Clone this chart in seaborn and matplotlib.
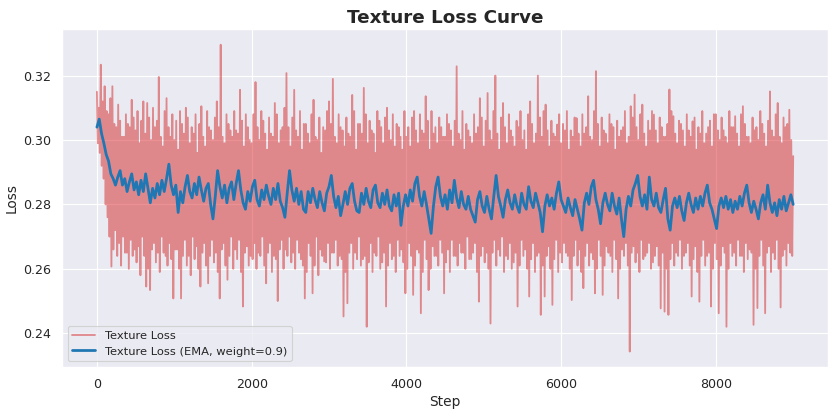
import numpy as np
import matplotlib
matplotlib.use("Agg")
import matplotlib.pyplot as plt
import seaborn as sns

sns.set_theme(style="darkgrid")
plt.rcParams["path.simplify"] = False

# Raw texture loss, every 12.5 steps (0 .. 9000)
raw_step = 12.5
raw_loss = [
    0.3150, 0.2990, 0.3100, 0.2960, 0.3234, 0.2920, 0.3120, 0.2880, 0.3167, 0.2800, 0.3090, 0.2760, 0.3080, 0.2700, 0.3130, 0.2607, 0.3167, 0.2660, 0.3050, 0.2720,
    0.3040, 0.2640, 0.3110, 0.2680, 0.3060, 0.2610, 0.3010, 0.2700, 0.3010, 0.2650, 0.3080, 0.2650, 0.3050, 0.2600, 0.3040, 0.2690, 0.3125, 0.2640, 0.3070, 0.2660,
    0.3030, 0.2620, 0.3090, 0.2670, 0.2990, 0.2580, 0.3060, 0.2700, 0.3120, 0.2640, 0.3020, 0.2545, 0.3115, 0.2600, 0.3070, 0.2534, 0.3000, 0.2660, 0.3100, 0.2680,
    0.3040, 0.2620, 0.3060, 0.2650, 0.3196, 0.2590, 0.3010, 0.2700, 0.2980, 0.2650, 0.3090, 0.2640, 0.3130, 0.2610, 0.3040, 0.2680, 0.3010, 0.2630, 0.3080, 0.2508,
    0.3000, 0.2660, 0.3060, 0.2660, 0.2970, 0.2600, 0.3090, 0.2508, 0.3050, 0.2640, 0.3020, 0.2690, 0.3100, 0.2610, 0.3070, 0.2640, 0.2990, 0.2580, 0.3040, 0.2700,
    0.3020, 0.2630, 0.3080, 0.2670, 0.2960, 0.2600, 0.3050, 0.2545, 0.3105, 0.2650, 0.3010, 0.2680, 0.2980, 0.2610, 0.3090, 0.2555, 0.3040, 0.2640, 0.3030, 0.2690,
    0.3000, 0.2620, 0.3070, 0.2650, 0.3120, 0.2590, 0.3040, 0.2508, 0.3296, 0.2660, 0.3010, 0.2680, 0.2990, 0.2610, 0.3080, 0.2566, 0.3050, 0.2640, 0.3030, 0.2700,
    0.3010, 0.2600, 0.3090, 0.2660, 0.3030, 0.2630, 0.3020, 0.2690, 0.3156, 0.2590, 0.3060, 0.2483, 0.2980, 0.2650, 0.3080, 0.2670, 0.3040, 0.2610, 0.3000, 0.2640,
    0.2990, 0.2630, 0.3080, 0.2680, 0.3180, 0.2600, 0.3040, 0.2650, 0.3000, 0.2640, 0.3090, 0.2700, 0.3060, 0.2610, 0.3020, 0.2555, 0.2970, 0.2650, 0.3070, 0.2680,
    0.3020, 0.2590, 0.3010, 0.2640, 0.3115, 0.2630, 0.3080, 0.2500, 0.2990, 0.2660, 0.3030, 0.2690, 0.3040, 0.2600, 0.3100, 0.2660, 0.3208, 0.2640, 0.3040, 0.2700,
    0.2980, 0.2620, 0.3070, 0.2650, 0.3156, 0.2600, 0.3030, 0.2690, 0.3010, 0.2650, 0.3090, 0.2630, 0.2970, 0.2610, 0.3050, 0.2508, 0.3050, 0.2590, 0.3020, 0.2680,
    0.2990, 0.2640, 0.3080, 0.2524, 0.3125, 0.2610, 0.3010, 0.2700, 0.3000, 0.2580, 0.3070, 0.2660, 0.2960, 0.2640, 0.3040, 0.2623, 0.3030, 0.2620, 0.3090, 0.2680,
    0.3120, 0.2600, 0.3050, 0.2650, 0.3190, 0.2650, 0.3010, 0.2690, 0.2990, 0.2610, 0.3080, 0.2640, 0.3040, 0.2630, 0.3030, 0.2452, 0.2980, 0.2590, 0.3070, 0.2493,
    0.3020, 0.2650, 0.3010, 0.2680, 0.3140, 0.2600, 0.3090, 0.2650, 0.2970, 0.2630, 0.3050, 0.2700, 0.3050, 0.2610, 0.3020, 0.2630, 0.3162, 0.2640, 0.3080, 0.2420,
    0.2990, 0.2620, 0.3060, 0.2680, 0.3030, 0.2590, 0.3020, 0.2650, 0.2960, 0.2640, 0.3090, 0.2700, 0.3060, 0.2600, 0.3040, 0.2620, 0.2990, 0.2650, 0.3070, 0.2483,
    0.3100, 0.2610, 0.3030, 0.2680, 0.3000, 0.2630, 0.3080, 0.2640, 0.2980, 0.2590, 0.3050, 0.2690, 0.3040, 0.2640, 0.3010, 0.2660, 0.2970, 0.2620, 0.3090, 0.2524,
    0.3010, 0.2600, 0.3040, 0.2680, 0.2980, 0.2640, 0.3070, 0.2519, 0.3090, 0.2610, 0.3030, 0.2660, 0.2990, 0.2650, 0.3080, 0.2462, 0.3030, 0.2590, 0.3020, 0.2690,
    0.3136, 0.2630, 0.3060, 0.2534, 0.2970, 0.2600, 0.3090, 0.2670, 0.3020, 0.2640, 0.3040, 0.2640, 0.2990, 0.2610, 0.3070, 0.2690, 0.3040, 0.2650, 0.3010, 0.2524,
    0.3010, 0.2620, 0.3080, 0.2660, 0.3050, 0.2590, 0.3030, 0.2690, 0.2980, 0.2640, 0.3060, 0.2640, 0.3229, 0.2610, 0.3020, 0.2680, 0.3000, 0.2650, 0.3090, 0.2650,
    0.2970, 0.2600, 0.3050, 0.2700, 0.3030, 0.2630, 0.3010, 0.2630, 0.2990, 0.2650, 0.3080, 0.2680, 0.3020, 0.2590, 0.3040, 0.2498, 0.3130, 0.2640, 0.3070, 0.2670,
    0.2980, 0.2620, 0.3060, 0.2650, 0.3146, 0.2600, 0.3030, 0.2430, 0.3000, 0.2650, 0.3090, 0.2690, 0.3200, 0.2610, 0.3020, 0.2660, 0.2970, 0.2640, 0.3070, 0.2700,
    0.3115, 0.2590, 0.3040, 0.2640, 0.2990, 0.2630, 0.3080, 0.2680, 0.3030, 0.2600, 0.3010, 0.2620, 0.2980, 0.2650, 0.3060, 0.2483, 0.3040, 0.2610, 0.3090, 0.2690,
    0.3000, 0.2640, 0.3030, 0.2660, 0.2970, 0.2600, 0.3080, 0.2514, 0.3120, 0.2630, 0.3050, 0.2680, 0.2990, 0.2590, 0.3020, 0.2640, 0.3200, 0.2650, 0.3070, 0.2457,
    0.3010, 0.2610, 0.3090, 0.2514, 0.3110, 0.2640, 0.3030, 0.2670, 0.2980, 0.2600, 0.3060, 0.2488, 0.3020, 0.2630, 0.3010, 0.2690, 0.3048, 0.2590, 0.3080, 0.2650,
    0.2990, 0.2620, 0.3050, 0.2680, 0.3030, 0.2650, 0.3090, 0.2640, 0.2970, 0.2600, 0.3030, 0.2503, 0.3010, 0.2640, 0.3070, 0.2690, 0.3068, 0.2610, 0.3020, 0.2660,
    0.2980, 0.2590, 0.3080, 0.2540, 0.3020, 0.2640, 0.3040, 0.2680, 0.3136, 0.2610, 0.3010, 0.2650, 0.3000, 0.2630, 0.3090, 0.2524, 0.3214, 0.2600, 0.3050, 0.2690,
    0.2980, 0.2640, 0.3070, 0.2519, 0.3030, 0.2610, 0.3020, 0.2670, 0.2990, 0.2650, 0.3080, 0.2640, 0.3050, 0.2590, 0.3040, 0.2690, 0.2970, 0.2630, 0.3060, 0.2508,
    0.3010, 0.2600, 0.3030, 0.2660, 0.3040, 0.2640, 0.3090, 0.2680, 0.2990, 0.2610, 0.3010, 0.2343, 0.3105, 0.2650, 0.3070, 0.2670, 0.3141, 0.2620, 0.3040, 0.2650,
    0.3000, 0.2590, 0.3080, 0.2690, 0.3110, 0.2630, 0.3020, 0.2640, 0.2980, 0.2650, 0.3060, 0.2680, 0.3030, 0.2600, 0.3090, 0.2620, 0.3079, 0.2640, 0.3030, 0.2670,
    0.2990, 0.2610, 0.3070, 0.2477, 0.3040, 0.2650, 0.3010, 0.2467, 0.3010, 0.2600, 0.3050, 0.2457, 0.3157, 0.2630, 0.3090, 0.2680, 0.3074, 0.2610, 0.3020, 0.2650,
    0.2990, 0.2640, 0.3060, 0.2690, 0.3050, 0.2600, 0.3030, 0.2640, 0.2980, 0.2650, 0.3080, 0.2680, 0.3030, 0.2610, 0.3010, 0.2514, 0.3058, 0.2630, 0.3070, 0.2670,
    0.2970, 0.2590, 0.3040, 0.2498, 0.3020, 0.2640, 0.3090, 0.2690, 0.2990, 0.2610, 0.3020, 0.2640, 0.3040, 0.2650, 0.3060, 0.2483, 0.2980, 0.2600, 0.3080, 0.2680,
    0.3080, 0.2630, 0.3030, 0.2462, 0.3000, 0.2610, 0.3070, 0.2670, 0.3030, 0.2650, 0.3010, 0.2420, 0.2990, 0.2600, 0.3090, 0.2680, 0.3040, 0.2640, 0.3040, 0.2650,
    0.3074, 0.2610, 0.3020, 0.2690, 0.2980, 0.2640, 0.3080, 0.2640, 0.3105, 0.2590, 0.3050, 0.2680, 0.3010, 0.2630, 0.3010, 0.2660, 0.2990, 0.2650, 0.3070, 0.2426,
    0.3030, 0.2600, 0.3040, 0.2478, 0.3000, 0.2640, 0.3090, 0.2690, 0.3050, 0.2610, 0.3020, 0.2462, 0.2980, 0.2650, 0.3060, 0.2670, 0.3151, 0.2590, 0.3030, 0.2650,
    0.3010, 0.2630, 0.3080, 0.2690, 0.3115, 0.2600, 0.3010, 0.2480, 0.2990, 0.2640, 0.3070, 0.2660, 0.3040, 0.2610, 0.3050, 0.2680, 0.3094, 0.2650, 0.3000, 0.2640,
    0.2950,
]

# EMA (weight=0.9) curve, every 30 steps (0 .. 9000)
ema_step = 30
ema_loss = [
    0.3040, 0.3065, 0.3020, 0.2990, 0.2955, 0.2935, 0.2895, 0.2880, 0.2860, 0.2885,
    0.2905, 0.2860, 0.2880, 0.2840, 0.2870, 0.2895, 0.2845, 0.2870, 0.2830, 0.2875,
    0.2840, 0.2895, 0.2850, 0.2805, 0.2850, 0.2820, 0.2865, 0.2830, 0.2875, 0.2840,
    0.2880, 0.2925, 0.2860, 0.2830, 0.2860, 0.2775, 0.2840, 0.2805, 0.2855, 0.2890,
    0.2840, 0.2820, 0.2865, 0.2830, 0.2885, 0.2845, 0.2810, 0.2850, 0.2865, 0.2800,
    0.2755, 0.2825, 0.2905, 0.2855, 0.2820, 0.2860, 0.2805, 0.2850, 0.2870, 0.2815,
    0.2865, 0.2905, 0.2845, 0.2805, 0.2785, 0.2840, 0.2810, 0.2855, 0.2875, 0.2815,
    0.2795, 0.2845, 0.2815, 0.2860, 0.2825, 0.2800, 0.2850, 0.2815, 0.2865, 0.2810,
    0.2790, 0.2760, 0.2835, 0.2905, 0.2845, 0.2810, 0.2850, 0.2800, 0.2840, 0.2785,
    0.2775, 0.2840, 0.2805, 0.2850, 0.2815, 0.2790, 0.2840, 0.2805, 0.2780, 0.2835,
    0.2855, 0.2890, 0.2825, 0.2790, 0.2825, 0.2765, 0.2800, 0.2840, 0.2800, 0.2850,
    0.2865, 0.2810, 0.2780, 0.2775, 0.2835, 0.2800, 0.2850, 0.2810, 0.2790, 0.2845,
    0.2860, 0.2805, 0.2790, 0.2835, 0.2800, 0.2845, 0.2795, 0.2780, 0.2830, 0.2795,
    0.2835, 0.2735, 0.2795, 0.2830, 0.2795, 0.2845, 0.2810, 0.2865, 0.2885, 0.2825,
    0.2795, 0.2840, 0.2800, 0.2755, 0.2710, 0.2795, 0.2855, 0.2885, 0.2825, 0.2795,
    0.2830, 0.2785, 0.2845, 0.2805, 0.2875, 0.2820, 0.2790, 0.2840, 0.2800, 0.2785,
    0.2825, 0.2785, 0.2765, 0.2745, 0.2815, 0.2840, 0.2795, 0.2775, 0.2825, 0.2785,
    0.2755, 0.2825, 0.2890, 0.2825, 0.2795, 0.2760, 0.2815, 0.2845, 0.2805, 0.2785,
    0.2830, 0.2795, 0.2775, 0.2835, 0.2800, 0.2785, 0.2855, 0.2810, 0.2790, 0.2835,
    0.2805, 0.2775, 0.2715, 0.2795, 0.2830, 0.2795, 0.2820, 0.2785, 0.2835, 0.2870,
    0.2815, 0.2795, 0.2775, 0.2820, 0.2790, 0.2765, 0.2815, 0.2785, 0.2755, 0.2720,
    0.2805, 0.2835, 0.2800, 0.2855, 0.2875, 0.2815, 0.2785, 0.2740, 0.2805, 0.2835,
    0.2800, 0.2780, 0.2835, 0.2795, 0.2770, 0.2820, 0.2755, 0.2700, 0.2785, 0.2825,
    0.2795, 0.2845, 0.2865, 0.2890, 0.2825, 0.2795, 0.2830, 0.2785, 0.2885, 0.2815,
    0.2795, 0.2835, 0.2790, 0.2775, 0.2815, 0.2850, 0.2755, 0.2720, 0.2795, 0.2820,
    0.2790, 0.2825, 0.2780, 0.2750, 0.2805, 0.2835, 0.2800, 0.2775, 0.2820, 0.2785,
    0.2825, 0.2795, 0.2835, 0.2860, 0.2805, 0.2785, 0.2755, 0.2725, 0.2795, 0.2820,
    0.2790, 0.2825, 0.2785, 0.2815, 0.2775, 0.2810, 0.2785, 0.2825, 0.2795, 0.2835,
    0.2860, 0.2805, 0.2775, 0.2810, 0.2785, 0.2755, 0.2805, 0.2830, 0.2785, 0.2860,
    0.2805, 0.2775, 0.2805, 0.2765, 0.2815, 0.2785, 0.2825, 0.2780, 0.2805, 0.2830,
    0.2800,
]

raw_steps = np.arange(len(raw_loss)) * raw_step
ema_steps = np.arange(len(ema_loss)) * ema_step

fig, ax = plt.subplots(figsize=(10, 4.94))
fig.subplots_adjust(left=0.075, right=1.0, bottom=0.103, top=0.928)

sns.lineplot(x=raw_steps, y=raw_loss, ax=ax, color="tab:red", alpha=0.5,
             linewidth=1.6, label="Texture Loss")
sns.lineplot(x=ema_steps, y=ema_loss, ax=ax, color="tab:blue",
             linewidth=2.4, label="Texture Loss (EMA, weight=0.9)")

ax.set_title("Texture Loss Curve", fontsize=16, fontweight="bold")
ax.set_xlabel("Step", fontsize=12)
ax.set_ylabel("Loss", fontsize=12)
ax.tick_params(labelsize=11)
ax.legend(loc="lower left", fontsize=10)

plt.savefig("out.png", dpi=82.8)
plt.close()
